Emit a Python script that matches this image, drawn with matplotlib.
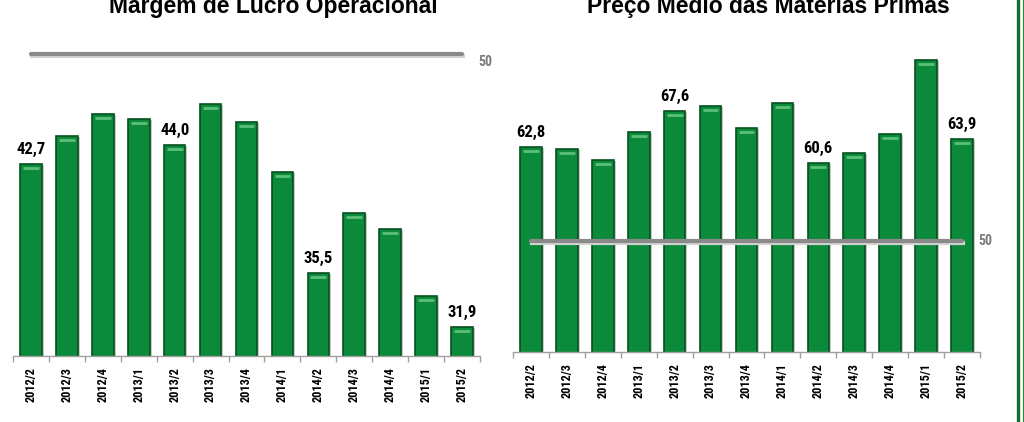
import numpy as np
import matplotlib
matplotlib.use('Agg')
import matplotlib.pyplot as plt
import matplotlib.transforms as mtransforms

# quarters shown on both charts
quarters = ['2012/2', '2012/3', '2012/4', '2013/1', '2013/2', '2013/3', '2013/4',
            '2014/1', '2014/2', '2014/3', '2014/4', '2015/1', '2015/2']

# left chart: operating margin
margem = [42.7, 44.6, 46.0, 45.7, 44.0, 46.7, 45.5, 42.2, 35.5, 39.5, 38.4, 34.0, 31.9]
margem_labels = {0: '42,7', 4: '44,0', 8: '35,5', 12: '31,9'}

# right chart: average raw material price
preco = [62.8, 62.5, 61.0, 64.8, 67.6, 68.3, 65.4, 68.7, 60.6, 62.0, 64.6, 74.6, 63.9]
preco_labels = {0: '62,8', 4: '67,6', 8: '60,6', 12: '63,9'}

ref_value = 50

titles = ['Margem de Lucro Operacional', 'Preço Médio das Matérias Primas']

narrow = ['Roboto Condensed', 'DejaVu Sans']
W, H = 1024, 422

fig = plt.figure(figsize=(W / 100, H / 100), dpi=100)
fig.patch.set_facecolor('white')

GREEN = '#0b8a3b'
DARK = '#06501f'
GREY_AX = '#a0a0a0'


def draw_panel(rect, values, labels, ylim, ref_dy_pts):
    ax = fig.add_axes(rect)
    x = np.arange(len(quarters))
    # soft shadow behind the bars
    shadow = mtransforms.offset_copy(ax.transData, fig=fig, x=2, y=-1, units='dots')
    ax.bar(x, values, width=0.6, color='#c8c8c8', transform=shadow, zorder=1)
    ax.bar(x, values, width=0.6, color=GREEN, edgecolor=DARK, linewidth=1.2, zorder=2)
    # top highlight strip on each bar
    hl = mtransforms.offset_copy(ax.transData, fig=fig, x=0, y=-4, units='dots')
    ax.hlines(values, x - 0.22, x + 0.22, colors='#5cbf78', linewidth=2, transform=hl, zorder=3)

    # reference line with shadow
    sh = mtransforms.offset_copy(ax.transData, fig=fig, x=1, y=-2, units='dots')
    ax.plot([0, len(x) - 1], [ref_value, ref_value], color='#d4d4d4', lw=3, transform=sh, zorder=3)
    ax.plot([0, len(x) - 1], [ref_value, ref_value], color='#8a8a8a', lw=3, zorder=4,
            solid_capstyle='round')
    ax.annotate('50', xy=(len(x) - 1, ref_value), xytext=(12, ref_dy_pts), textcoords='offset points',
                ha='left', va='center', fontsize=10, fontweight='bold', color='#7a7a7a', family=narrow)

    for i, txt in labels.items():
        ax.annotate(txt, xy=(i, values[i]), xytext=(0, 5), textcoords='offset points',
                    ha='center', va='bottom', fontsize=12, fontweight='bold', color='black',
                    family=narrow, zorder=5)

    ax.set_xlim(-0.5, len(x) - 0.5)
    ax.set_ylim(*ylim)
    for s in ['top', 'right', 'left']:
        ax.spines[s].set_visible(False)
    ax.spines['bottom'].set_color(GREY_AX)
    ax.spines['bottom'].set_linewidth(1)
    ax.set_yticks([])
    ax.set_xticks(x)
    ax.set_xticklabels(quarters, rotation=90, fontsize=8.8, fontweight='bold', family=narrow)
    ax.tick_params(axis='x', which='major', length=0, pad=8)
    ax.set_xticks(np.arange(len(x) + 1) - 0.5, minor=True)
    ax.tick_params(axis='x', which='minor', length=4, color=GREY_AX, width=1)
    ax.patch.set_alpha(0)
    return ax


draw_panel([13 / W, 66 / H, 467 / W, 356 / H], margem, margem_labels, (30, 30 + 356 / 15.1), -6)
draw_panel([513 / W, 70 / H, 467 / W, 352 / H], preco, preco_labels, (35, 35 + 352 / 7.38), 0)

fig.text(273 / W, (H - 13) / H, titles[0], ha='center', va='baseline', fontsize=16.5,
         fontweight='bold', family='Liberation Sans')
fig.text(768 / W, (H - 13) / H, titles[1], ha='center', va='baseline', fontsize=16.5,
         fontweight='bold', family='Liberation Sans')

# green frame on the right edge
fig.add_artist(plt.Line2D([1017.5 / W, 1017.5 / W], [0, 1], color='#0f6e2a', lw=2.4,
                          transform=fig.transFigure))
fig.add_artist(plt.Line2D([1022.5 / W, 1022.5 / W], [0, 1], color='#2e8b3e', lw=0.9,
                          transform=fig.transFigure))

fig.savefig('out.png', dpi=100, facecolor='white')
